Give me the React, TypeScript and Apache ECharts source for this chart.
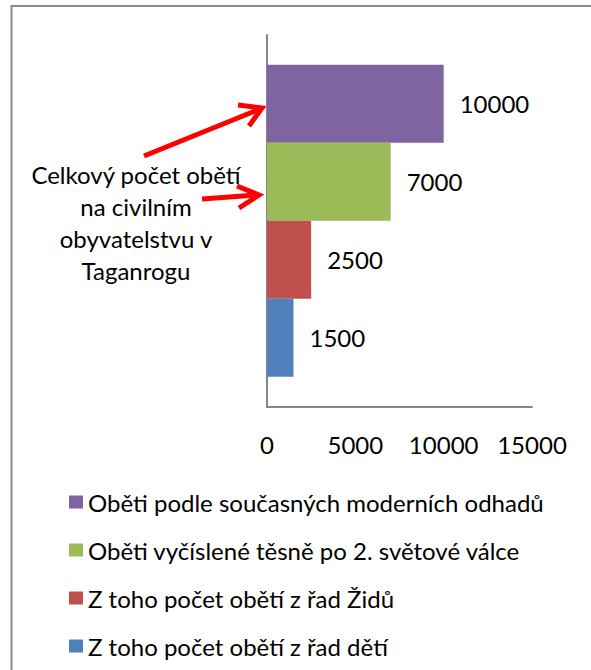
import React, { useEffect, useRef } from "react";
import * as echarts from "echarts";

const categories = ["Taganrog"];
const seriesNames = [
  "Oběti podle současných moderních odhadů",
  "Oběti vyčíslené těsně po 2. světové válce",
  "Z toho počet obětí z řad Židů",
  "Z toho počet obětí z řad dětí",
];
const seriesValues = [10000, 7000, 2500, 1500];
const seriesColors = ["#8064A2", "#9BBB59", "#C0504D", "#4F81BD"];
const xTicks = [0, 5000, 10000, 15000];
const annotation = "Celkový počet obětí\nna civilním\nobyvatelstvu v\nTaganrogu";

const FONT = "Lato";

export default function App() {
  const ref = useRef<HTMLDivElement>(null);
  useEffect(() => {
    if (!ref.current) return;
    const chart = echarts.init(ref.current, null, { renderer: "svg" });
    const axisColor = "#868686";
    chart.setOption({
      animation: false,
      backgroundColor: "#ffffff",
      textStyle: { fontFamily: FONT },
      grid: { left: 267, right: 59, top: 35, bottom: 263.5, containLabel: false },
      xAxis: {
        type: "value",
        min: xTicks[0],
        max: xTicks[xTicks.length - 1],
        interval: xTicks[1] - xTicks[0],
        splitLine: { show: false },
        axisTick: { show: false },
        axisLine: { show: true, lineStyle: { color: axisColor, width: 2 } },
        axisLabel: {
          color: "#000",
          fontSize: 24,
          fontFamily: FONT,
          margin: 26,
          formatter: (v: number) => String(v),
        },
      },
      yAxis: {
        type: "category",
        data: categories,
        axisTick: { show: false },
        axisLabel: { show: false },
        axisLine: { show: true, lineStyle: { color: axisColor, width: 2 } },
      },
      legend: {
        orient: "vertical",
        left: 64,
        top: 485,
        itemWidth: 14,
        itemHeight: 13,
        itemGap: 24,
        icon: "rect",
        data: seriesNames,
        textStyle: { color: "#000", fontSize: 24, lineHeight: 24, fontFamily: FONT },
      },
      series: seriesNames.map((name, i) => ({
        name,
        type: "bar",
        data: [seriesValues[i]],
        itemStyle: { color: seriesColors[i] },
        barGap: "0%",
        barCategoryGap: "16%",
        label: {
          show: true,
          position: "right",
          distance: 16,
          color: "#000",
          fontSize: 24,
          fontFamily: FONT,
          formatter: (p: any) => String(p.value),
        },
      })),
      graphic: [
        {
          type: "rect",
          shape: { x: 11.5, y: 6, width: 800, height: 800 },
          style: { fill: "none", stroke: "#8a8a8a", lineWidth: 2 },
          silent: true,
        },
        {
          type: "text",
          x: 136,
          y: 158,
          style: {
            text: annotation,
            fontSize: 24,
            fontFamily: FONT,
            fill: "#000",
            align: "center",
            verticalAlign: "top",
            lineHeight: 32,
          },
        },
        {
          type: "line",
          shape: { x1: 144, y1: 156, x2: 260, y2: 109 },
          style: { stroke: "#ff0000", lineWidth: 5 },
        },
        {
          type: "polyline",
          shape: { points: [[238, 105], [262, 108], [249, 126]] },
          style: { stroke: "#ff0000", lineWidth: 5, fill: "none", lineJoin: "miter" },
        },
        {
          type: "line",
          shape: { x1: 202, y1: 199, x2: 257, y2: 195 },
          style: { stroke: "#ff0000", lineWidth: 5 },
        },
        {
          type: "polyline",
          shape: { points: [[237, 186], [259, 195], [239, 208]] },
          style: { stroke: "#ff0000", lineWidth: 5, fill: "none", lineJoin: "miter" },
        },
      ],
    });
    return () => chart.dispose();
  }, []);
  return (
    <div
      ref={ref}
      style={{ position: "fixed", left: 0, top: 0, width: 591, height: 670 }}
    />
  );
}
